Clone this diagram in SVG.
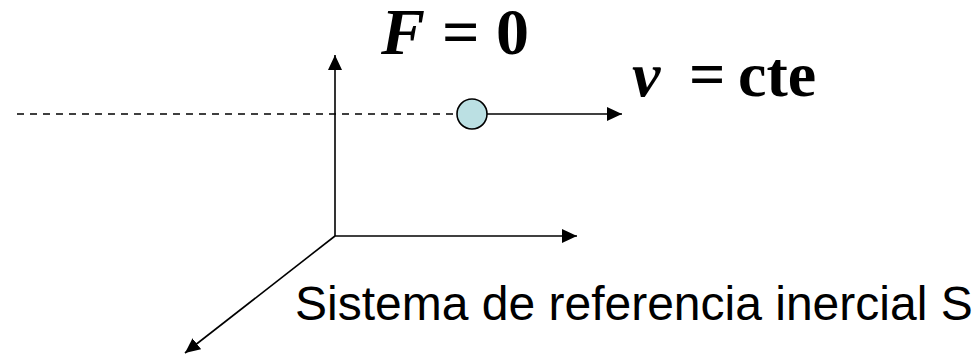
<svg xmlns="http://www.w3.org/2000/svg" width="974" height="355" viewBox="0 0 974 355">
<style>
.ax{stroke:#000;stroke-width:1.6;fill:none}
.dash{stroke:#000;stroke-width:1.6;stroke-dasharray:7,6;fill:none}
.eq{font-family:"Liberation Serif","Times New Roman",serif;font-weight:bold;fill:#000}
.it{font-style:italic}
.lbl{font-family:"Liberation Sans",Arial,sans-serif;font-size:48px;fill:#000}
</style>
<defs>
<marker id="ah" markerUnits="userSpaceOnUse" markerWidth="16" markerHeight="14" refX="15" refY="7" orient="auto">
<path d="M0,0 L15,7 L0,14 Z" fill="#000"/>
</marker>
</defs>
<g id="connectors">
<line class="dash" x1="17" y1="114" x2="457" y2="114"/>
<line class="ax" x1="335" y1="236" x2="335" y2="55" marker-end="url(#ah)"/>
<line class="ax" x1="335" y1="236" x2="577" y2="236" marker-end="url(#ah)"/>
<line class="ax" x1="335" y1="236" x2="185" y2="353" marker-end="url(#ah)"/>
<line class="ax" x1="487" y1="114" x2="622" y2="114" marker-end="url(#ah)"/>
</g>
<g id="particle">
<circle cx="472" cy="114" r="15" fill="#BBE0E3" stroke="#000" stroke-width="1.6"/>
</g>
<g id="label-force">
<text class="eq" font-size="66" y="54"><tspan class="it" x="381">F</tspan><tspan x="442">=</tspan><tspan x="496">0</tspan></text>
</g>
<g id="label-velocity">
<text class="eq" font-size="64" y="96"><tspan class="it" x="632">v</tspan><tspan x="689">=</tspan><tspan x="738">cte</tspan></text>
</g>
<g id="label-system">
<text class="lbl" x="295" y="320">Sistema de referencia inercial S</text>
</g>
</svg>
